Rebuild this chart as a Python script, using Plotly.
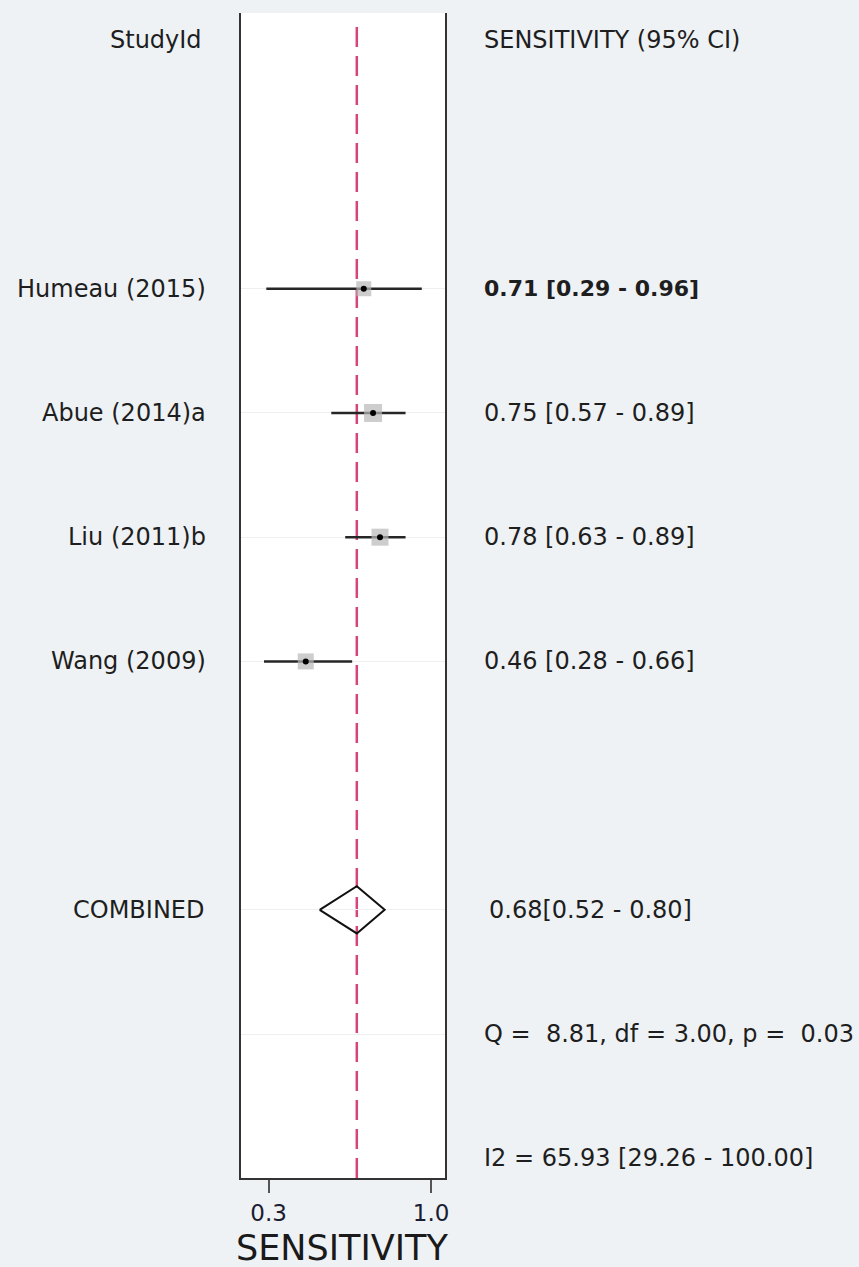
import plotly.graph_objects as go

# Study-level sensitivity estimates with 95% confidence intervals
studies = ["Humeau (2015)", "Abue (2014)a", "Liu (2011)b", "Wang (2009)"]
sens = [0.71, 0.75, 0.78, 0.46]
ci_lo = [0.29, 0.57, 0.63, 0.28]
ci_hi = [0.96, 0.89, 0.89, 0.66]
study_rows = [2, 3, 4, 5]
marker_sizes = [15, 18, 17, 16]

# Pooled estimate and heterogeneity statistics
pooled = 0.68
pooled_lo = 0.52
pooled_hi = 0.80
pooled_row = 7
q_stat, q_df, q_p = 8.81, 3.00, 0.03
i2, i2_lo, i2_hi = 65.93, 29.26, 100.00

x_ticks = [0.3, 1.0]
x_tick_text = ["0.3", "1.0"]

W, H = 859, 1267
L, R, T, B = 241, 445, 13, 1178
FONT = "DejaVu Sans, Verdana, sans-serif"
TXT = "#1e1e1e"
BG = "#eef2f5"

fig = go.Figure()

# Confidence interval whiskers
seg_x, seg_y = [], []
for lo, hi, r in zip(ci_lo, ci_hi, study_rows):
    seg_x += [lo, hi, None]
    seg_y += [r, r, None]
fig.add_trace(go.Scatter(x=seg_x, y=seg_y, mode="lines",
                         line=dict(color="#262626", width=2.5), hoverinfo="skip"))

# Weight boxes and point estimates
fig.add_trace(go.Scatter(x=sens, y=study_rows, mode="markers",
                         marker=dict(symbol="square", size=marker_sizes, color="#b8b8b8",
                                     line=dict(width=0)), hoverinfo="skip"))
fig.add_trace(go.Scatter(x=sens, y=study_rows, mode="markers",
                         marker=dict(symbol="circle", size=6, color="#000000"), hoverinfo="skip"))

# Pooled diamond
half_h = 0.19
fig.add_trace(go.Scatter(
    x=[pooled_lo, pooled, pooled_hi, pooled, pooled_lo],
    y=[pooled_row, pooled_row - half_h, pooled_row, pooled_row + half_h, pooled_row],
    mode="lines", line=dict(color="#111111", width=2), hoverinfo="skip"))

# Reference line at the pooled estimate
fig.add_shape(type="line", xref="x", yref="paper", x0=pooled, x1=pooled, y0=0, y1=0.994,
              line=dict(color="#d6457a", width=2.5, dash="20px,9px"), layer="below")

y_top = -0.22
y_bot = 9.159

fig.update_xaxes(range=[0.181, 1.060], tickvals=x_ticks, ticktext=x_tick_text,
                 showgrid=False, zeroline=False, showline=True, linecolor="#333333", linewidth=2,
                 ticks="outside", ticklen=13, tickwidth=2, tickcolor="#555555",
                 tickfont=dict(family=FONT, size=23, color="#1c1c30"))
fig.update_yaxes(range=[y_bot, y_top], tickvals=[2, 3, 4, 5, 7, 8], showticklabels=False,
                 showgrid=True, gridcolor="#efefef", gridwidth=1, zeroline=False,
                 showline=True, mirror=True, linecolor="#333333", linewidth=2, ticks="")


def row_to_paper(r):
    return (y_bot - r) / (y_bot - y_top)


def px_to_xpaper(px):
    return (px - L) / (R - L)


ann = []
# Column headers
ann.append(dict(text="StudyId", x=px_to_xpaper(204), xanchor="right", y=row_to_paper(0)))
ann.append(dict(text="SENSITIVITY (95% CI)", x=px_to_xpaper(482), xanchor="left", y=row_to_paper(0)))

for i, (name, s, lo, hi, r) in enumerate(zip(studies, sens, ci_lo, ci_hi, study_rows)):
    ann.append(dict(text=name, x=px_to_xpaper(208), xanchor="right", y=row_to_paper(r)))
    label = f"{s:.2f} [{lo:.2f} - {hi:.2f}]"
    size = 24
    if i == 0:
        label = f"<b>{label}</b>"
        size = 22
    ann.append(dict(text=label, x=px_to_xpaper(482), xanchor="left", y=row_to_paper(r), size=size))

ann.append(dict(text="COMBINED", x=px_to_xpaper(207), xanchor="right", y=row_to_paper(pooled_row)))
ann.append(dict(text=f"{pooled:.2f}[{pooled_lo:.2f} - {pooled_hi:.2f}]",
                x=px_to_xpaper(487), xanchor="left", y=row_to_paper(pooled_row)))
ann.append(dict(text=f"Q =  {q_stat:.2f}, df = {q_df:.2f}, p =  {q_p:.2f}",
                x=px_to_xpaper(482), xanchor="left", y=row_to_paper(8)))
ann.append(dict(text=f"I2 = {i2:.2f} [{i2_lo:.2f} - {i2_hi:.2f}]",
                x=px_to_xpaper(482), xanchor="left", y=row_to_paper(9)))

annotations = []
for a in ann:
    size = a.pop("size", 24)
    a.update(xref="paper", yref="paper", yanchor="middle", showarrow=False,
             font=dict(family=FONT, size=size, color=TXT))
    annotations.append(a)

# Axis title
annotations.append(dict(text="SENSITIVITY", xref="paper", yref="paper",
                        x=px_to_xpaper(342), y=(B - 1248) / (B - T), xanchor="center", yanchor="middle",
                        showarrow=False, font=dict(family=FONT, size=35, color="#1a1a1a")))

fig.update_layout(
    width=W, height=H,
    margin=dict(l=L, r=W - R, t=T, b=H - B, pad=0),
    paper_bgcolor=BG, plot_bgcolor="#ffffff",
    showlegend=False,
    annotations=annotations,
)

fig.write_html("out.html")
